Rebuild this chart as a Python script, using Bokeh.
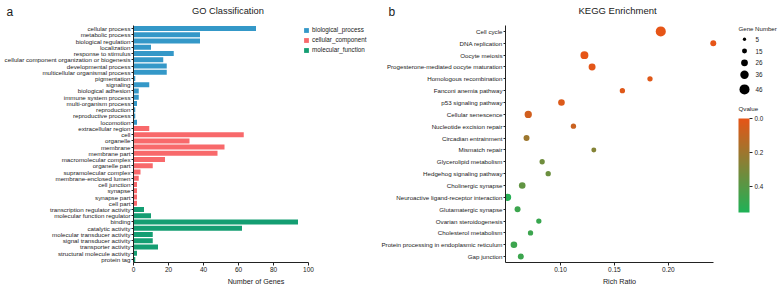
import numpy as np
from bokeh.plotting import figure
from bokeh.layouts import row, column
from bokeh.models import (ColumnDataSource, FactorRange, Range1d, Legend, LegendItem,
                          LinearColorMapper, ColorBar, FixedTicker, PrintfTickFormatter,
                          AllLabels)
from bokeh.core.properties import value
from bokeh.embed import file_html
from bokeh.resources import INLINE

FONT = "Liberation Sans"
TXT = "#1a1a1a"

# ---------------- GO data ----------------
bp_terms = ["cellular process", "metabolic process", "biological regulation", "localization",
            "response to stimulus", "cellular component organization or biogenesis",
            "developmental process", "multicellular organismal process", "pigmentation",
            "signaling", "biological adhesion", "immune system process", "multi-organism process",
            "reproduction", "reproductive process", "locomotion"]
bp_counts = [70, 38, 38, 10, 23, 17, 19, 19, 1, 9, 3, 3, 2, 1, 1, 2]

cc_terms = ["extracellular region", "cell", "organelle", "membrane", "membrane part",
            "macromolecular complex", "organelle part", "supramolecular complex",
            "membrane-enclosed lumen", "cell junction", "synapse", "synapse part", "cell part"]
cc_counts = [9, 63, 32, 52, 48, 18, 11, 4, 3, 2, 2, 2, 2]

mf_terms = ["transcription regulator activity", "molecular function regulator", "binding",
            "catalytic activity", "molecular transducer activity", "signal transducer activity",
            "transporter activity", "structural molecule activity", "protein tag"]
mf_counts = [6, 10, 94, 62, 11, 11, 14, 2, 1]

go_groups = ["biological_process", "cellular_component", "molecular_function"]
go_colors = ["#3498C8", "#F8696B", "#149E72"]
go_ticks = [0, 20, 40, 60, 80, 100]

# ---------------- KEGG data ----------------
pathways = ["Cell cycle", "DNA replication", "Oocyte meiosis",
            "Progesterone-mediated oocyte maturation", "Homologous recombination",
            "Fanconi anemia pathway", "p53 signaling pathway", "Cellular senescence",
            "Nucleotide excision repair", "Circadian entrainment", "Mismatch repair",
            "Glycerolipid metabolism", "Hedgehog signaling pathway", "Cholinergic synapse",
            "Neuroactive ligand-receptor interaction", "Glutamatergic synapse",
            "Ovarian steroidogenesis", "Cholesterol metabolism",
            "Protein processing in endoplasmic reticulum", "Gap junction"]
rich_ratio = [0.193, 0.2417, 0.1222, 0.1293, 0.183, 0.1574, 0.1009, 0.0701, 0.112, 0.0685,
              0.1309, 0.083, 0.0886, 0.0645, 0.0509, 0.0602, 0.0799, 0.0722, 0.0568, 0.0632]
gene_number = [46, 21, 33, 27, 17, 17, 25, 29, 17, 21, 15, 17, 17, 25, 29, 21, 17, 17, 25, 21]
qvalue = [0.0, 0.0, 0.0, 0.01, 0.02, 0.02, 0.03, 0.06, 0.08, 0.2, 0.27, 0.33, 0.34, 0.37,
          0.53, 0.47, 0.48, 0.47, 0.47, 0.47]
size_legend_values = [5, 15, 26, 36, 46]
rich_ticks = [0.10, 0.15, 0.20]
q_ticks = [0.0, 0.2, 0.4]

panel_letters = ["a", "b"]
panel_titles = ["GO Classification", "KEGG Enrichment"]


def dot_size(g):
    return 2.5 + 0.165 * np.asarray(g, dtype=float)


def style_axis(ax):
    ax.axis_line_color = "#222222"
    ax.major_tick_line_color = "#222222"
    ax.major_tick_in = 0
    ax.minor_tick_line_color = None
    ax.major_label_text_font = FONT
    ax.major_label_text_color = TXT
    ax.axis_label_text_font = FONT
    ax.axis_label_text_color = TXT
    ax.axis_label_text_font_style = "normal"


TOTAL_W = 778
HEAD_H = 18
H = 288 - HEAD_H
TOP, BOT = 7, 22
FH = H - TOP - BOT          # frame height of the plots in the lower row
FT = HEAD_H + TOP           # canvas y of the frame tops
FB = FT + FH                # canvas y of the frame bottoms

# ================= header (panel letters and titles) =================
head = figure(width=TOTAL_W, height=HEAD_H, output_backend="svg", toolbar_location=None,
              x_range=Range1d(0, TOTAL_W), y_range=Range1d(HEAD_H, 0),
              x_axis_location=None, y_axis_location=None,
              min_border_left=0, min_border_right=0, min_border_top=0, min_border_bottom=0)
head.outline_line_color = None
head.grid.visible = False
head.text(x=[6, 388], y=[11, 11], text=panel_letters, text_font=value(FONT),
          text_font_size="12px", text_baseline="alphabetic", text_color=TXT)
head.text(x=[191.5, 578], y=[10, 10], text=panel_titles, text_font=value(FONT),
          text_font_size=["9.3px", "9.5px"], text_baseline="alphabetic", text_color=TXT)

# ================= Panel a =================
W1 = 378
L1 = 133
PX1 = 1.75                      # pixels per gene
p1 = figure(width=W1, height=H, output_backend="svg", toolbar_location=None,
            y_range=FactorRange(factors=list(reversed(bp_terms + cc_terms + mf_terms))),
            x_range=Range1d(0, (W1 - L1) / PX1),
            min_border_left=L1, min_border_right=0, min_border_top=TOP, min_border_bottom=BOT)
p1.outline_line_color = None
p1.grid.visible = False

renderers = []
for terms, counts, col in [(bp_terms, bp_counts, go_colors[0]),
                           (cc_terms, cc_counts, go_colors[1]),
                           (mf_terms, mf_counts, go_colors[2])]:
    src = ColumnDataSource(dict(term=terms, count=counts))
    r = p1.hbar(y="term", right="count", left=0, height=0.8, source=src,
                fill_color=col, line_color=None)
    renderers.append(r)

xa = p1.xaxis[0]
ya = p1.yaxis[0]
style_axis(xa)
style_axis(ya)
xa.ticker = FixedTicker(ticks=go_ticks)
xa.bounds = (go_ticks[0], go_ticks[-1])
xa.axis_label = "Number of Genes"
xa.major_tick_out = 3
xa.major_label_standoff = 1
xa.major_label_text_font_size = "6.5px"
xa.axis_label_text_font_size = "7.2px"
xa.axis_label_standoff = 2
ya.major_tick_out = 2
ya.major_label_standoff = 1
ya.major_label_text_font_size = "6.2px"

leg1 = Legend(items=[LegendItem(label=g, renderers=[r]) for g, r in zip(go_groups, renderers)],
              location=(303 - L1, FB - 57), orientation="vertical",
              glyph_width=6, glyph_height=6, label_standoff=3, spacing=3,
              padding=0, margin=0, label_height=7, label_width=0,
              border_line_color=None, background_fill_alpha=0,
              label_text_font=FONT, label_text_font_size="6.3px", label_text_color=TXT)
p1.add_layout(leg1)

# ================= Panel b =================
W2 = 733 - 378
L2 = 126
PX2 = 1083.0                    # pixels per unit of rich ratio
RX0 = 0.049
p2 = figure(width=W2, height=H, output_backend="svg", toolbar_location=None,
            y_range=FactorRange(factors=list(reversed(pathways))),
            x_range=Range1d(RX0, RX0 + (W2 - L2) / PX2),
            min_border_left=L2, min_border_right=0, min_border_top=TOP, min_border_bottom=BOT)
p2.outline_line_color = None
p2.grid.visible = False

c_hi = np.array([0xE6, 0x55, 0x17], dtype=float)   # q = 0
c_lo = np.array([0x1F, 0xB2, 0x57], dtype=float)   # q = max
palette = []
for t in np.linspace(0, 1, 256):
    c = c_lo + (c_hi - c_lo) * t
    palette.append("#%02x%02x%02x" % tuple(int(round(v)) for v in c))
Q_MAX = 0.55
# colour bar shows q = 0 at the top, so the mapper works on the negated q value
mapper = LinearColorMapper(palette=palette, low=-Q_MAX, high=0.0)

src2 = ColumnDataSource(dict(path=pathways, ratio=rich_ratio, genes=gene_number,
                             negq=[-q for q in qvalue], size=dot_size(gene_number)))
p2.scatter(x="ratio", y="path", size="size", source=src2,
           fill_color={"field": "negq", "transform": mapper}, line_color=None)

xb = p2.xaxis[0]
yb = p2.yaxis[0]
style_axis(xb)
style_axis(yb)
xb.ticker = FixedTicker(ticks=rich_ticks)
xb.formatter = PrintfTickFormatter(format="%.2f")
xb.bounds = (RX0, 0.2423)
xb.axis_label = "Rich Ratio"
xb.major_tick_out = 3
xb.major_label_standoff = 1
xb.major_label_text_font_size = "6.5px"
xb.axis_label_text_font_size = "7.2px"
xb.axis_label_standoff = 2
yb.major_tick_out = 2
yb.major_label_standoff = 1
yb.major_label_text_font_size = "6.2px"

# ================= legends for panel b =================
W3 = TOTAL_W - W1 - W2
p3 = figure(width=W3, height=H, output_backend="svg", toolbar_location=None,
            x_range=Range1d(0, W3), y_range=Range1d(0, FH),
            x_axis_location=None, y_axis_location=None,
            min_border_left=0, min_border_right=0, min_border_top=TOP, min_border_bottom=BOT)
p3.outline_line_color = None
p3.grid.visible = False


def up(canvas_y):
    """canvas y (from top) -> y in p3's frame (from bottom)"""
    return FB - canvas_y


leg_y = [up(y) for y in [39, 51, 63, 75, 90]]
p3.text(x=[5], y=[up(28.5)], text=["Gene Number"], text_font=value(FONT),
        text_font_size="6.1px", text_baseline="middle", text_color=TXT)
p3.scatter(x=[11] * len(size_legend_values), y=leg_y, size=dot_size(size_legend_values),
           fill_color="black", line_color=None)
p3.text(x=[22] * len(size_legend_values), y=leg_y, text=[str(v) for v in size_legend_values],
        text_font=value(FONT), text_font_size="6.3px", text_baseline="middle", text_color=TXT)
p3.text(x=[5], y=[up(109)], text=["Qvalue"], text_font=value(FONT), text_font_size="6.2px",
        text_baseline="middle", text_color=TXT)

cb = ColorBar(color_mapper=mapper, orientation="vertical", width=11, height=94,
              location=(5, up(216)), padding=0, margin=0,
              ticker=FixedTicker(ticks=[-t for t in q_ticks]),
              major_label_overrides={-t: "%.1f" % t for t in q_ticks},
              major_label_policy=AllLabels(),
              major_label_text_font=FONT, major_label_text_font_size="6.3px",
              major_label_text_color=TXT, label_standoff=2,
              major_tick_out=3, major_tick_in=0, major_tick_line_color="#222222",
              bar_line_color=None, background_fill_alpha=0, border_line_color=None)
p3.add_layout(cb)

layout = column(head, row(p1, p2, p3))
open("out.html", "w").write(file_html(layout, INLINE))
